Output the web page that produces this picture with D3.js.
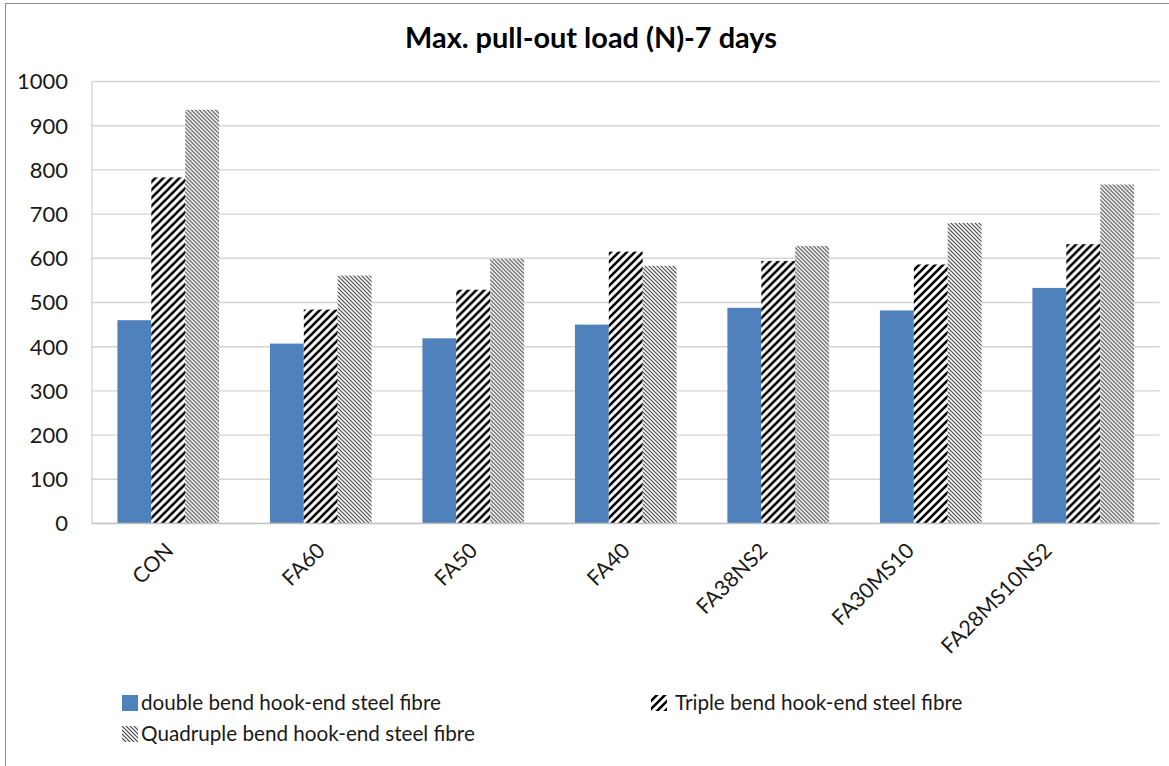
<!DOCTYPE html>
<html><head><meta charset="utf-8">
<script src="https://cdn.jsdelivr.net/npm/d3@7"></script>
<style>body{margin:0;background:#fff;overflow:hidden}</style>
</head><body>
<svg id="c" width="1169" height="766"></svg>
<script>
// ---- data ----
const title = "Max. pull-out load (N)-7 days";
const categories = ["CON", "FA60", "FA50", "FA40", "FA38NS2", "FA30MS10", "FA28MS10NS2"];
const seriesNames = ["double bend hook-end steel fibre", "Triple bend hook-end steel fibre", "Quadruple bend hook-end steel fibre"];
const doubleBend = [460, 407, 419, 450, 488, 482, 533];
const tripleBend = [783, 484, 529, 615, 594, 586, 632];
const quadrupleBend = [936, 561, 599, 583, 628, 680, 767];
const yTicks = [0, 100, 200, 300, 400, 500, 600, 700, 800, 900, 1000];

const seriesValues = [doubleBend, tripleBend, quadrupleBend];
const FONT = "Lato, 'Open Sans', sans-serif";

const svg = d3.select("#c");
const defs = svg.append("defs");

// pattern: wide upward diagonal (triple)
const p1 = defs.append("pattern").attr("id", "pTriple").attr("patternUnits", "userSpaceOnUse")
  .attr("width", 8).attr("height", 8);
p1.append("rect").attr("width", 8).attr("height", 8).attr("fill", "#fff");
p1.append("path").attr("d", "M-2,2 L2,-2 M0,8 L8,0 M6,10 L10,6")
  .attr("stroke", "#000").attr("stroke-width", 2.6);

// pattern: dense downward diagonal (quadruple)
const p2 = defs.append("pattern").attr("id", "pQuad").attr("patternUnits", "userSpaceOnUse")
  .attr("width", 4).attr("height", 4);
p2.append("rect").attr("width", 4).attr("height", 4).attr("fill", "#fff");
p2.append("path").attr("d", "M0,0 L4,4 M-1,3 L1,5 M3,-1 L5,1")
  .attr("stroke", "#444").attr("stroke-width", 1.15);

const fills = ["#4f81bd", "url(#pTriple)", "url(#pQuad)"];

// outer frame
svg.append("rect").attr("x", 5.5).attr("y", 3.5).attr("width", 1200).attr("height", 800)
  .attr("fill", "none").attr("stroke", "#8c8c8c").attr("stroke-width", 1);

const plot = { left: 92, right: 1159.5, top: 81.5, bottom: 523.5 };

const x0 = d3.scaleBand().domain(categories).range([plot.left, plot.right])
  .paddingInner(1 / 3).paddingOuter(1 / 6);
const x1 = d3.scaleBand().domain(d3.range(seriesNames.length)).range([0, x0.bandwidth()]);
const y = d3.scaleLinear().domain([0, 1000]).range([plot.bottom, plot.top]);

// gridlines
svg.append("g").selectAll("line").data(yTicks.filter(d => d > 0)).join("line")
  .attr("x1", plot.left).attr("x2", plot.right)
  .attr("y1", d => y(d)).attr("y2", d => y(d))
  .attr("stroke", "#d4d4d4").attr("stroke-width", 1.4);

// left axis line
svg.append("line").attr("x1", plot.left).attr("x2", plot.left)
  .attr("y1", plot.top).attr("y2", plot.bottom)
  .attr("stroke", "#d4d4d4").attr("stroke-width", 1.4);

// bars
const groups = svg.append("g").selectAll("g").data(categories).join("g")
  .attr("transform", d => `translate(${x0(d)},0)`);
groups.selectAll("rect").data((d, i) => seriesValues.map((s, k) => ({ k, v: s[i] }))).join("rect")
  .attr("x", d => x1(d.k)).attr("width", x1.bandwidth())
  .attr("y", d => y(d.v)).attr("height", d => y(0) - y(d.v))
  .attr("fill", d => fills[d.k]);

// x axis baseline
svg.append("line").attr("x1", plot.left).attr("x2", plot.right)
  .attr("y1", plot.bottom).attr("y2", plot.bottom)
  .attr("stroke", "#bfbfbf").attr("stroke-width", 1.4);

// fit helper
function fit(sel, target) {
  const w = sel.node().getComputedTextLength();
  const fs = parseFloat(sel.attr("font-size"));
  return fs * target / w;
}

// legend
const lg = svg.append("g");
const leg = [
  { x: 122, y: 695, tx: 141, ty: 710 },
  { x: 651, y: 695, tx: 675, ty: 710 },
  { x: 122, y: 726, tx: 141, ty: 741 }
];
lg.selectAll("rect").data(leg).join("rect")
  .attr("x", d => d.x).attr("y", d => d.y).attr("width", 16).attr("height", 16)
  .attr("fill", (d, i) => fills[i]);
const legTexts = lg.selectAll("text").data(leg).join("text")
  .attr("x", d => d.tx).attr("y", d => d.ty)
  .attr("font-family", FONT).attr("font-size", 20).attr("fill", "#1a1a1a")
  .text((d, i) => seriesNames[i]);
const baseFs = fit(d3.select(legTexts.nodes()[0]), 300);
legTexts.attr("font-size", baseFs);

// y axis labels
const yl = svg.append("g").selectAll("text").data(yTicks).join("text")
  .attr("x", 68).attr("y", d => y(d)).attr("dy", "0.36em")
  .attr("text-anchor", "end").attr("font-family", FONT).attr("font-size", baseFs)
  .attr("fill", "#1a1a1a").text(d => d);
yl.attr("font-size", fit(d3.select(yl.nodes()[yl.size() - 1]), 51));

// x axis labels
const xFs = baseFs * 1.03;
const xl = svg.append("g").selectAll("text").data(categories).join("text")
  .attr("text-anchor", "end").attr("dy", "0.36em")
  .attr("font-family", FONT).attr("font-size", xFs).attr("fill", "#1a1a1a")
  .text(d => d);
const L0 = xl.nodes()[0].getComputedTextLength();
xl.attr("transform", function (d) {
  const L = this.getComputedTextLength();
  const cx = x0(d) + x0.bandwidth() / 2;
  return `translate(${cx + 1 - 0.37 * (L - L0)},${plot.bottom + 23}) rotate(-45)`;
});

// title
const t = svg.append("text").attr("x", 591).attr("y", 48).attr("text-anchor", "middle")
  .attr("font-family", FONT).attr("font-weight", "bold").attr("font-size", 22)
  .attr("fill", "#000").text(title);
t.attr("font-size", fit(t, 372));
</script>
</body></html>
